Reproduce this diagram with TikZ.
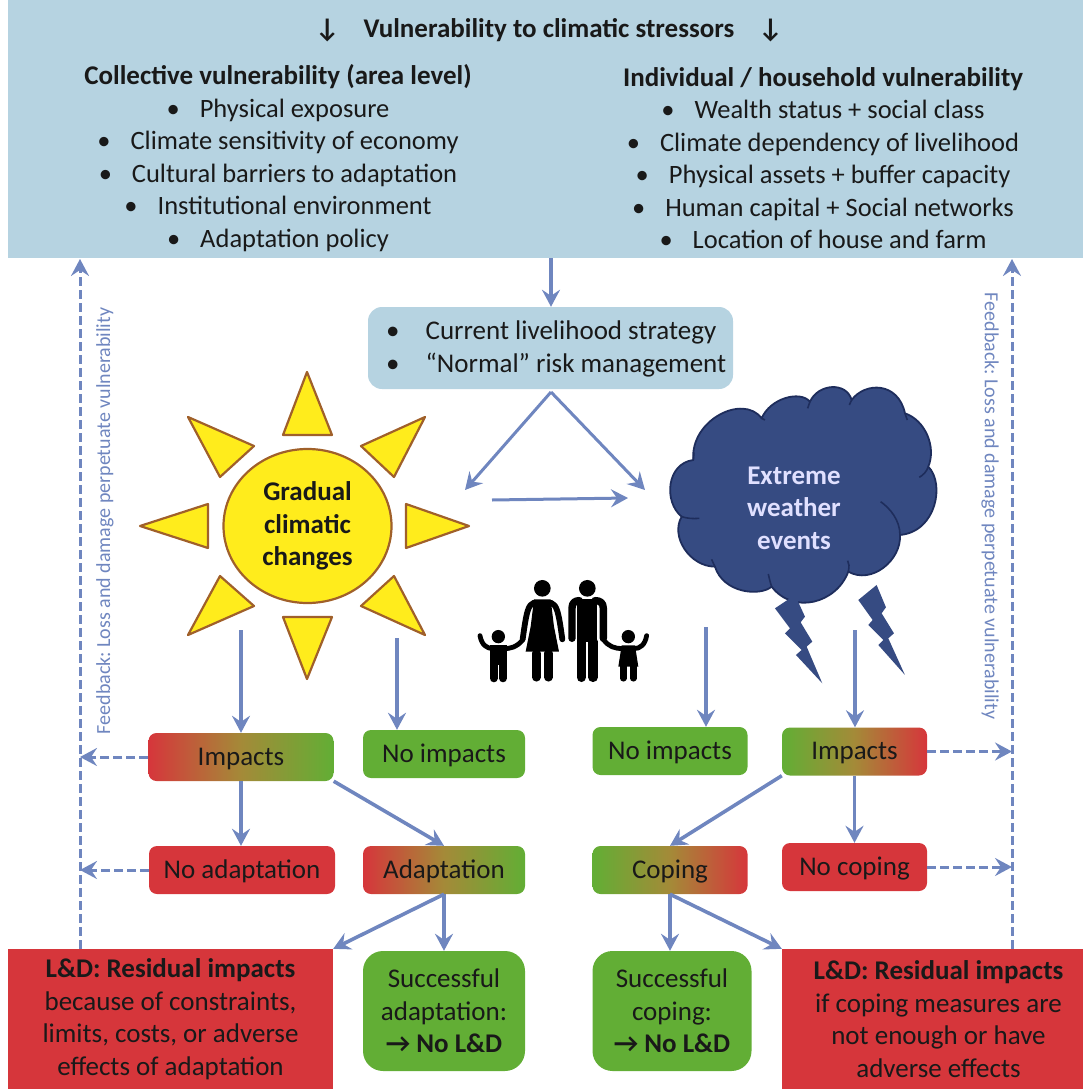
\documentclass[tikz,border=0pt]{standalone}
\usepackage{fontspec}
\setmainfont{Carlito}
\usetikzlibrary{arrows.meta,shapes.geometric}
\definecolor{bandblue}{HTML}{B6D3E1}
\definecolor{lineblue}{HTML}{6F86BF}
\definecolor{boxred}{HTML}{D6363B}
\definecolor{boxgreen}{HTML}{62AE35}
\definecolor{boxmid}{HTML}{A48A38}
\definecolor{sunyellow}{HTML}{FFEC1C}
\definecolor{sunedge}{HTML}{A0602A}
\definecolor{cloudblue}{HTML}{364B82}
\definecolor{cloudedge}{HTML}{1E2D5C}
\newcommand{\bul}{\textbullet\hspace{20pt}}
\frenchspacing
\tikzset{
  body/.style={font=\fontsize{27}{32.5}\selectfont},
  txt/.style={body,inner sep=0pt,text=black!90,align=center},
  listtxt/.style={txt,font=\fontsize{26.5}{32.5}\selectfont},
  band/.style={fill=bandblue,inner sep=0pt},
  bx/.style={txt,rounded corners=8pt,minimum height=48pt,text height=21pt,text depth=5pt},
  redbox/.style={bx,fill=boxred},
  greenbox/.style={bx,fill=boxgreen},
  rgbox/.style={bx,left color=boxred,right color=boxgreen,middle color=boxmid},
  grbox/.style={bx,left color=boxgreen,right color=boxred,middle color=boxmid},
  ldbox/.style={txt,fill=boxred,minimum height=140pt},
  okbox/.style={txt,fill=boxgreen,rounded corners=20pt,minimum height=120pt},
  flow/.style={draw=lineblue,line width=3.6pt,-{Stealth[length=17pt,width=18pt,inset=6pt]}},
  thinflow/.style={flow,line width=3pt},
  back/.style={flow,line width=3pt,dash pattern=on 9pt off 4pt},
  ray/.style={fill=sunyellow,draw=sunedge,line width=2.2pt,line join=round},
  fb/.style={inner sep=0pt,text=lineblue,font=\fontsize{20}{22}\selectfont},
  famline/.style={draw=black,line cap=round,line join=round},
}
\begin{document}
\begin{tikzpicture}[x=1pt,y=-1pt]
\useasboundingbox (0,0) rectangle (1083,1089);
% blue header
\node[band,minimum width=1075pt,minimum height=258pt] (top) at (545.5,129) {};
\node[txt,font=\fontsize{27}{32.5}\selectfont\bfseries] (title) at (549,30) {↓\hspace{24pt}Vulnerability to climatic stressors\hspace{24pt}↓};
\node[listtxt] (coll) at (278,158) {{\fontsize{27}{32.5}\selectfont\textbf{Collective vulnerability (area level)}}\\\bul Physical exposure\\\bul Climate sensitivity of economy\\\bul Cultural barriers to adaptation\\\bul Institutional environment\\\bul Adaptation policy};
\node[listtxt] (indiv) at (823,158) {{\fontsize{27}{32.5}\selectfont\textbf{Individual / household vulnerability}}\\\bul Wealth status + social class\\\bul Climate dependency of livelihood\\\bul Physical assets + buffer capacity\\\bul Human capital + Social networks\\\bul Location of house and farm};
% livelihood
\node[band,rounded corners=14pt,minimum width=365pt,minimum height=82pt] (live) at (550.5,348) {};
\node[txt,align=left,anchor=west] (livetxt) at (386,349) {\textbullet\hspace{26pt}Current livelihood strategy\\\textbullet\hspace{26pt}“Normal” risk management};
% sun
\draw[ray] (307,372) -- (283,435) -- (332,435) -- cycle;
\draw[ray] (307,679) -- (283,617) -- (332,617) -- cycle;
\draw[ray] (140,526) -- (208,504) -- (208,548) -- cycle;
\draw[ray] (469,526) -- (406,504) -- (406,548) -- cycle;
\draw[ray] (188,417) -- (254,446) -- (220,477) -- cycle;
\draw[ray] (425,417) -- (361,446) -- (394,477) -- cycle;
\draw[ray] (188,635) -- (254,606) -- (220,576) -- cycle;
\draw[ray] (425,635) -- (361,606) -- (394,576) -- cycle;
\node[ellipse,ray,txt,font=\fontsize{27}{32.5}\selectfont\bfseries,minimum width=168pt,minimum height=154pt] (sun) at (307.5,526) {Gradual\\climatic\\changes};
% cloud and family (drawn in the coordinates of a crop)
\begin{scope}[shift={(460,370)},x=0.3333pt,y=-0.3333pt]
\draw[fill=cloudblue,draw=cloudedge,line width=1.8pt,line join=round]
  (905,145) .. controls (930,85) and (1020,60) .. (1050,95)
  .. controls (1075,40) and (1160,35) .. (1175,90)
  .. controls (1215,35) and (1315,35) .. (1335,130)
  .. controls (1395,150) and (1430,230) .. (1405,290)
  .. controls (1455,340) and (1430,485) .. (1320,495)
  .. controls (1325,570) and (1235,645) .. (1165,605)
  .. controls (1130,700) and (1000,735) .. (935,650)
  .. controls (900,680) and (790,670) .. (765,590)
  .. controls (690,590) and (630,500) .. (665,440)
  .. controls (610,395) and (620,280) .. (700,270)
  .. controls (690,150) and (850,70) .. (905,145) -- cycle;
\draw[cloudedge,line width=1.6pt] (1320,495) .. controls (1320,450) and (1290,415) .. (1262,395);
\draw[cloudedge,line width=1.6pt] (1165,605) .. controls (1168,590) and (1168,580) .. (1163,572);
\draw[cloudedge,line width=1.6pt] (935,650) .. controls (930,635) and (928,625) .. (925,612);
\draw[cloudedge,line width=1.6pt] (765,590) .. controls (760,580) and (758,575) .. (755,568);
\draw[cloudedge,line width=1.6pt] (665,440) .. controls (680,445) and (700,447) .. (718,445);
\draw[cloudedge,line width=1.6pt] (1405,290) .. controls (1400,305) and (1390,315) .. (1378,322);
\draw[cloudedge,line width=1.6pt] (1050,95) -- (1043,115);
\draw[cloudedge,line width=1.6pt] (1175,90) -- (1168,105);
\draw[cloudedge,line width=1.6pt] (905,145) -- (915,150);
\draw[cloudedge,line width=1.6pt] (1335,130) -- (1342,150);
\draw[cloudedge,line width=1.6pt] (700,270) -- (702,248);
% lightning
\fill[cloudblue] (945,715) -- (1005,675) -- (1035,740) -- (1022,757) -- (1057,815) -- (1040,830) -- (1087,940) -- (1008,855) -- (1025,840) -- (975,790) -- (990,775) -- cycle;
\fill[cloudblue] (1195,690) -- (1250,645) -- (1278,712) -- (1265,730) -- (1302,790) -- (1285,805) -- (1335,915) -- (1255,825) -- (1270,810) -- (1225,765) -- (1238,750) -- cycle;
% woman
\fill[black] (247,655) circle (25);
\fill[black] (222,688) -- (272,688) -- (282,770) -- (297,845) -- (197,845) -- (212,770) -- cycle;
\draw[famline,line width=5.8pt] (222,698) .. controls (205,705) and (200,720) .. (188,808);
\draw[famline,line width=5.8pt] (272,698) .. controls (290,705) and (295,720) .. (307,808);
\draw[famline,line width=8.5pt] (229,850) -- (229,922);
\draw[famline,line width=8.5pt] (265,850) -- (265,922);
% man
\fill[black] (382,655) circle (25);
\fill[black] (352,686) rectangle (411,815);
\draw[famline,line width=7.4pt] (336,805) -- (336,715) .. controls (336,698) and (345,692) .. (358,692);
\draw[famline,line width=7.4pt] (430,805) -- (430,715) .. controls (430,698) and (420,692) .. (405,692);
\draw[famline,line width=9.5pt] (364,815) -- (364,922);
\draw[famline,line width=9.5pt] (399,815) -- (399,922);
% children
\fill[black] (115,800) circle (20);
\fill[black] (90,826) rectangle (140,885);
\draw[famline,line width=8pt] (101,885) -- (101,925);
\draw[famline,line width=8pt] (129,885) -- (129,925);
\draw[famline,line width=4.8pt] (60,797) .. controls (65,825) and (80,835) .. (98,836);
\draw[famline,line width=4.8pt] (132,836) .. controls (150,836) and (170,832) .. (188,810);
\fill[black] (505,800) circle (20);
\fill[black] (485,826) -- (525,826) -- (535,890) -- (475,890) -- cycle;
\draw[famline,line width=6.5pt] (490,890) -- (490,925);
\draw[famline,line width=6.5pt] (520,890) -- (520,925);
\draw[famline,line width=4.8pt] (430,808) .. controls (445,830) and (465,836) .. (488,836);
\draw[famline,line width=4.8pt] (522,836) .. controls (540,836) and (555,825) .. (560,797);
\end{scope}
\node[txt,text=white!88!blue,font=\fontsize{27}{32.5}\selectfont\bfseries] (storm) at (794,508) {Extreme\\weather\\events};
% boxes, left
\node[rgbox,minimum width=185pt] (impL) at (241,757) {Impacts};
\node[greenbox,minimum width=162pt] (noimpL) at (444,754) {No impacts};
\node[redbox,minimum width=186pt] (noad) at (242,870) {No adaptation};
\node[rgbox,minimum width=162pt] (adapt) at (444,870) {Adaptation};
\node[ldbox,minimum width=325pt] (ldL) at (170.5,1019) {\textbf{L\&D: Residual impacts}\\because of constraints,\\limits, costs, or adverse\\effects of adaptation};
\node[okbox,minimum width=162pt] (okL) at (444,1011) {Successful\\adaptation:\\\textbf{→ No L\&D}};
% boxes, right
\node[greenbox,minimum width=155pt] (noimpR) at (670,751) {No impacts};
\node[grbox,minimum width=145pt] (impR) at (854.5,751.5) {Impacts};
\node[grbox,minimum width=155pt] (cope) at (670,870) {Coping};
\node[redbox,minimum width=145pt] (nocope) at (854.5,867) {No coping};
\node[okbox,minimum width=159pt] (okR) at (672,1011) {Successful\\coping:\\\textbf{→ No L\&D}};
\node[ldbox,minimum width=313pt] (ldR) at (938.5,1019) {\textbf{L\&D: Residual impacts}\\if coping measures are\\not enough or have\\adverse effects};
% feedback labels
\node[fb,rotate=90] (fbtL) at (105,521) {Feedback: Loss and damage perpetuate vulnerability};
\node[fb,rotate=-90] (fbtR) at (990,506) {Feedback: Loss and damage perpetuate vulnerability};
% free ends
\coordinate (railL) at (80,259);
\coordinate (railR) at (1012,259);
\coordinate (apex) at (551,392);
\coordinate (toSun) at (465,490);
\coordinate (toCloud) at (645,490);
\coordinate (hA) at (492,500);
\coordinate (hB) at (628,498);
\coordinate (s1) at (241,630);
\coordinate (s2) at (397,638);
\coordinate (c1) at (706,627);
\coordinate (c2) at (855,630);
% connectors
\draw[flow] (top.south -| apex) -- (live.north -| apex);
\draw[thinflow] (apex) -- (toSun);
\draw[thinflow] (apex) -- (toCloud);
\draw[thinflow] (hA) -- (hB);
\draw[flow] (s1) -- (s1 |- impL.north);
\draw[flow] (s2) -- (s2 |- noimpL.north);
\draw[flow] (c1) -- (c1 |- noimpR.north);
\draw[flow] (c2) -- (c2 |- impR.north);
\draw[flow] (impL.south) -- (noad.north -| impL.south);
\draw[flow] (impL.south east) -- (adapt.north);
\draw[flow] (adapt.south) -- (ldL.north east);
\draw[flow] (adapt.south) -- (okL.north);
\draw[flow] (impR.south) -- (nocope.north -| impR.south);
\draw[flow] (impR.south west) -- (cope.north);
\draw[flow] (cope.south) -- (okR.north -| cope.south);
\draw[flow] (cope.south) -- (ldR.north west);
\draw[back] (impL.west) -- (impL.west -| railL);
\draw[back] (noad.west) -- (noad.west -| railL);
\draw[back] (impR.east) -- (impR.east -| railR);
\draw[back] (nocope.east) -- (nocope.east -| railR);
\draw[back] (ldL.north -| railL) -- (railL);
\draw[back] (ldR.north -| railR) -- (railR);
\end{tikzpicture}
\end{document}
